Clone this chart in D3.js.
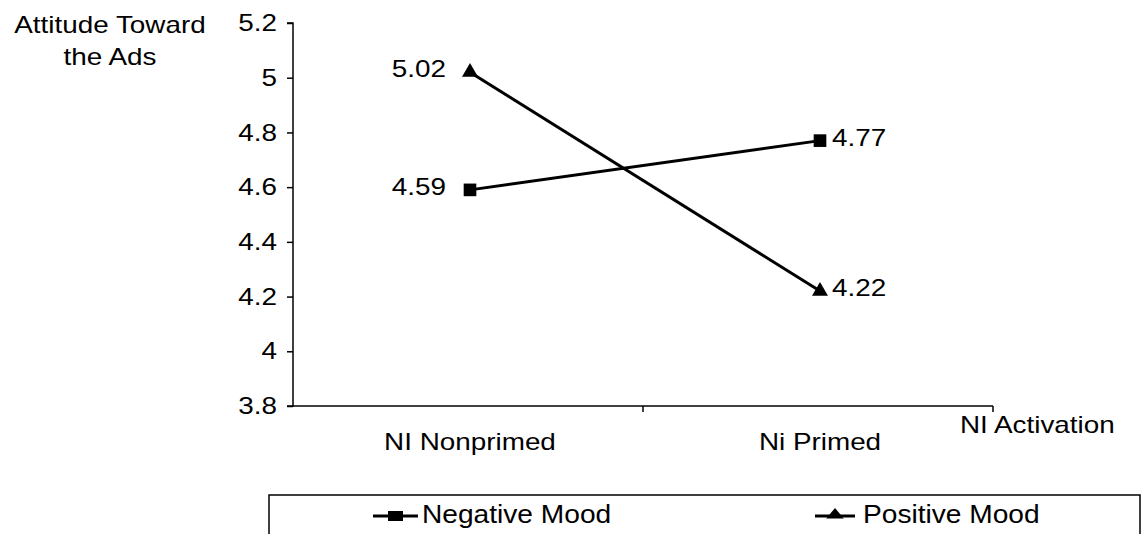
<!DOCTYPE html>
<html>
<head>
<meta charset="utf-8">
<script src="https://cdn.jsdelivr.net/npm/d3@7"></script>
<style>
  html, body { margin: 0; padding: 0; background: #fff; }
  svg text { font-family: "Liberation Sans", Arial, sans-serif; fill: #000; }
</style>
</head>
<body>
<svg id="chart" width="1143" height="534"></svg>
<script>
// Attitude toward the ads by NI activation and mood
const categories = ["NI Nonprimed", "Ni Primed"];
const negativeMood = [4.59, 4.77];
const positiveMood = [5.02, 4.22];
const yTicks = [3.8, 4, 4.2, 4.4, 4.6, 4.8, 5, 5.2];
const seriesNames = ["Negative Mood", "Positive Mood"];

const svg = d3.select("#chart");
const fs = 24;
const stretch = 1.16; // wide, tightly-set lettering

// widen a text node horizontally while keeping its anchor
function widen(sel, k = stretch) {
  sel.each(function () {
    const w = this.getComputedTextLength();
    d3.select(this).attr("textLength", w * k).attr("lengthAdjust", "spacingAndGlyphs");
  });
}

const x0 = 293, x1 = 993, yTop = 23, yBot = 406;
const x = d3.scaleBand().domain(categories).range([x0 + 2, x1 + 2]);
const y = d3.scaleLinear().domain([3.8, 5.2]).range([yBot, yTop]);

// Y axis
const yAxis = svg.append("g").attr("transform", `translate(${x0},0)`)
  .call(d3.axisLeft(y).tickValues(yTicks).tickFormat(d => String(+d.toFixed(1))).tickSize(6).tickPadding(10));
yAxis.select(".domain").attr("stroke", "#000").attr("stroke-width", 1.5).attr("d", `M-6,${yTop}H0V${yBot}H-6`);
yAxis.selectAll(".tick line").attr("stroke", "#000").attr("stroke-width", 1.5);
yAxis.selectAll(".tick text").attr("font-size", fs).attr("font-family", "Liberation Sans, Arial, sans-serif")
  .attr("fill", "#000").call(widen);

// X axis with category dividers
const xAxis = svg.append("g").attr("transform", `translate(0,${yBot})`);
xAxis.append("line").attr("x1", x0).attr("x2", x1).attr("stroke", "#000").attr("stroke-width", 1.5);
[x0 + x.bandwidth(), x1].forEach(v => {
  xAxis.append("line").attr("x1", v).attr("x2", v).attr("y1", 0).attr("y2", 6)
    .attr("stroke", "#000").attr("stroke-width", 1.5);
});
xAxis.selectAll("text.cat").data(categories).join("text")
  .attr("class", "cat")
  .attr("x", d => x(d) + x.bandwidth() / 2)
  .attr("y", 44)
  .attr("text-anchor", "middle")
  .attr("font-size", fs)
  .text(d => d)
  .call(widen);

// Axis titles
svg.append("text").attr("x", 960).attr("y", 433).attr("font-size", fs).text("NI Activation").call(widen);
const yt = svg.append("text").attr("text-anchor", "middle").attr("font-size", fs);
yt.append("tspan").attr("x", 110).attr("y", 33).text("Attitude Toward").call(widen);
yt.append("tspan").attr("x", 110).attr("y", 65).text("the Ads").call(widen);

const cx = d => x(d) + x.bandwidth() / 2;
const line = d3.line().x(d => cx(d.c)).y(d => y(d.v));

const series = [
  { name: seriesNames[0], values: negativeMood, shape: d3.symbolSquare, size: 160 },
  { name: seriesNames[1], values: positiveMood, shape: d3.symbolTriangle, size: 110 }
];

series.forEach(s => {
  const pts = categories.map((c, i) => ({ c, v: s.values[i] }));
  svg.append("path").datum(pts).attr("d", line)
    .attr("fill", "none").attr("stroke", "#000").attr("stroke-width", 3);
  svg.selectAll(null).data(pts).join("path")
    .attr("transform", d => `translate(${cx(d.c)},${y(d.v)})`)
    .attr("d", d3.symbol().type(s.shape).size(s.size))
    .attr("fill", "#000");
  svg.selectAll(null).data(pts).join("text")
    .attr("x", (d, i) => i === 0 ? cx(d.c) - 24 : cx(d.c) + 12)
    .attr("y", d => y(d.v) + 5)
    .attr("text-anchor", (d, i) => i === 0 ? "end" : "start")
    .attr("font-size", fs)
    .text(d => d.v.toFixed(2))
    .call(widen);
});

// Legend
const lg = svg.append("g");
lg.append("rect").attr("x", 269).attr("y", 495).attr("width", 871).attr("height", 50)
  .attr("fill", "#fff").attr("stroke", "#000").attr("stroke-width", 1.5);
const legX = [373, 815];
series.forEach((s, i) => {
  const g = lg.append("g").attr("transform", `translate(${legX[i]},516)`);
  g.append("line").attr("x1", 0).attr("x2", i === 0 ? 45 : 40).attr("stroke", "#000").attr("stroke-width", 3);
  if (i === 0) {
    g.append("rect").attr("x", 15).attr("y", -5).attr("width", 15).attr("height", 10).attr("fill", "#000");
  } else {
    g.append("path").attr("transform", "translate(20,-1) scale(1.1,0.75)")
      .attr("d", d3.symbol().type(s.shape).size(110)).attr("fill", "#000");
  }
  g.append("text").attr("x", i === 0 ? 49 : 48).attr("y", 7).attr("font-size", 25)
    .text(s.name).call(widen, 1.125);
});
</script>
</body>
</html>
